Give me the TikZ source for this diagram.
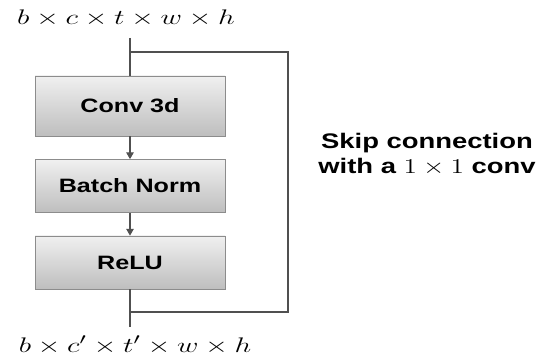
\documentclass[tikz,border=0pt]{standalone}
\usepackage{fontspec}
\usepackage{graphicx}
\usepackage{amsmath}
\usepackage{tikz}
\usetikzlibrary{arrows.meta, positioning, calc}
\newfontfamily\blockfont[FakeStretch=1.3]{Liberation Sans}
\definecolor{blocktop}{HTML}{F0F0F0}
\definecolor{blockbot}{HTML}{BEBEBE}
\definecolor{blockedge}{HTML}{8C8C8C}
\definecolor{wiregray}{HTML}{505050}
\newcommand{\dimlabel}[1]{\scalebox{1.4}[1]{\fontsize{13}{15}\selectfont$#1$}}

\begin{document}
\begin{tikzpicture}[
  layer/.style={rectangle, top color=blocktop, bottom color=blockbot, draw=blockedge,
    minimum width=3.8cm, minimum height=1.06cm, font=\blockfont\bfseries\fontsize{11}{13}\selectfont},
  wire/.style={draw=wiregray, line width=0.6pt},
  flow/.style={wire, -{Triangle[length=3.8pt, width=4.2pt]}}
]
  \useasboundingbox (0,0) rectangle (10.88,7.28);

  \node[layer, minimum height=1.2cm] (conv) at (2.6, 5.16) {Conv 3d};
  \node[layer] (bn) at (2.6, 3.56) {Batch Norm};
  \node[layer] (relu) at (2.6, 2.03) {ReLU};

  \node (inlabel) at (2.52, 6.92) {\dimlabel{b \times c \times t \times w \times h}};
  \node (outlabel) at (2.7, 0.38) {\dimlabel{b \times c' \times t' \times w \times h}};
  \node[align=center, font=\blockfont\bfseries\fontsize{12}{14}\selectfont] (skiptext) at (8.54, 4.2)
    {Skip connection\\ with a \scalebox{1.3}[1]{\fontsize{13}{14}\selectfont$1 \times 1$} conv};

  \coordinate (in) at (2.6, 6.52);
  \coordinate (split) at (2.6, 6.24);
  \coordinate (merge) at (2.6, 1.04);
  \coordinate (out) at (2.6, 0.74);

  \draw[wire] (in) -- (conv);
  \draw[flow] (conv) -- (bn);
  \draw[flow] (bn) -- (relu);
  \draw[wire] (relu) -- (out);
  \draw[wire] (split) -- ++(3.16,0) |- (merge);
\end{tikzpicture}
\end{document}
